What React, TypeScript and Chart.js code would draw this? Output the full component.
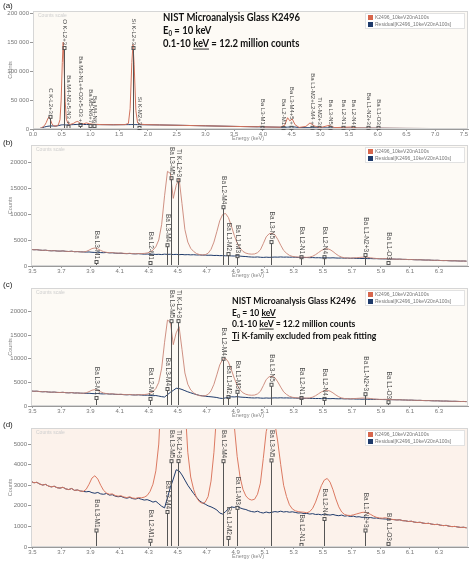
import React, { useEffect, useRef } from "react";
import { Chart, registerables } from "chart.js";
Chart.register(...registerables);

// ---------- shared text ----------
const seriesNames = ["K2496_10keV20nA100s", "Residual[K2496_10keV20nA100s]"];
const seriesColors = ["#d8664c", "#1f3b6b"];
const panelLetters = ["(a)", "(b)", "(c)", "(d)"];

// ---------- panel (a): full spectrum 0 - 7.57 keV ----------
const aEnergy = [0.05,0.1,0.15,0.2,0.23,0.26,0.28,0.30,0.33,0.36,0.40,0.44,0.47,0.49,0.51,0.525,0.54,0.56,0.58,0.61,0.65,0.70,0.75,0.78,0.82,0.88,0.93,0.98,1.05,1.2,1.4,1.6,1.66,1.69,1.72,1.74,1.76,1.79,1.82,1.86,1.95,2.2,2.6,3.0,3.5,3.9,3.95,4.0,4.3,4.38,4.43,4.47,4.51,4.56,4.63,4.75,4.82,4.9,5.0,5.15,5.25,5.53,5.65,6.0,6.5,7.0,7.57];
const aCounts = [0,300,2000,6000,11000,18500,21000,17000,9000,5500,5000,7000,16000,50000,115000,150000,112000,48000,17000,9500,8000,9500,12500,13000,10000,9000,10500,9000,8200,7600,7300,7600,9500,35000,115000,146000,112000,32000,10500,8500,7600,7000,6300,5500,4500,3800,4600,3600,3100,6500,19500,14000,17500,7500,2700,4500,10500,5000,2500,6200,2400,3400,1700,1350,1000,820,680];
const aResidual = [0,300,1800,3500,4200,4800,5000,5200,5300,5100,5000,5800,6500,7000,7200,7300,7200,7100,7000,7200,7400,7600,7800,7900,7900,7800,7800,7700,7600,7500,7300,7500,7600,7600,7700,7700,7600,7600,7500,7400,7300,7000,6300,5500,4500,3800,3700,3600,3100,3000,3200,3600,3800,3400,2600,2300,2200,2100,2000,1900,1850,1650,1550,1350,1000,820,680];
const aXTicks = [0,0.5,1,1.5,2,2.5,3,3.5,4,4.5,5,5.5,6,6.5,7,7.5];
const aYTicks = [0,50000,100000,150000,200000];
const aMarkLabels = ["C K-L2+3","O K-L2+3","Ba M4-N2+5-N3 +","Ba M3-N1+4-O2+5-O3 +","Ba M5-N6+7","Ba M4-N6","Si K-L2+3","Si K-M2+3","Ba L3-M1","Ba L2-M1","Ba L3-M4+5 +","Ba L1-M2+L2-M4 +","Ti K-M2+3","Ba L3-N5","Ba L2-N1","Ba L2-N4","Ba L1-N2+3","Ba L1-O3"];
const aMarkEnergy = [0.30,0.54,0.61,0.82,0.99,1.06,1.74,1.85,3.98,4.35,4.49,4.85,4.98,5.17,5.39,5.57,5.83,6.0];
const aMarkHeight = [21000,140000,3400,6900,5000,5000,140000,1700,2000,1700,2000,2000,2000,2000,2000,2000,2000,2000];

// ---------- panels (b)(c)(d): 3.49 - 6.5 keV ----------
const hiEnergy = [
  3.49,3.51,3.53,3.55,3.57,3.59,3.61,3.63,3.65,3.67,
  3.69,3.71,3.73,3.75,3.77,3.79,3.81,3.83,3.85,3.87,
  3.89,3.91,3.93,3.95,3.97,3.99,4.01,4.03,4.05,4.07,
  4.09,4.11,4.13,4.15,4.17,4.19,4.21,4.23,4.25,4.27,
  4.29,4.31,4.33,4.35,4.37,4.39,4.41,4.43,4.45,4.47,
  4.49,4.51,4.53,4.55,4.57,4.59,4.61,4.63,4.65,4.67,
  4.69,4.71,4.73,4.75,4.77,4.79,4.81,4.83,4.85,4.87,
  4.89,4.91,4.93,4.95,4.97,4.99,5.01,5.03,5.05,5.07,
  5.09,5.11,5.13,5.15,5.17,5.19,5.21,5.23,5.25,5.27,
  5.29,5.31,5.33,5.35,5.37,5.39,5.41,5.43,5.45,5.47,
  5.49,5.51,5.53,5.55,5.57,5.59,5.61,5.63,5.65,5.67,
  5.69,5.71,5.73,5.75,5.77,5.79,5.81,5.83,5.85,5.87,
  5.89,5.91,5.93,5.95,5.97,5.99,6.01,6.03,6.05,6.07,
  6.09,6.11,6.13,6.15,6.17,6.19,6.21,6.23,6.25,6.27,
  6.29,6.31,6.33,6.35,6.37,6.39,6.41,6.43,6.45,6.47,
  6.49];
const hiCounts = [
  3190,3120,3140,3060,3010,3040,2960,2920,2950,2880,
  2860,2900,2820,2790,2840,2750,2770,2720,2700,2800,
  3050,3350,3460,3300,3000,2750,2620,2560,2580,2500,
  2470,2490,2430,2400,2440,2380,2360,2400,2390,2420,
  2500,2700,3050,3700,5000,8000,13500,18200,17800,13000,
  15500,16800,12000,7000,4600,3400,2800,2400,2200,2120,
  2180,2450,3200,4600,6600,8700,9900,10100,9300,7700,
  5900,4400,3400,2800,2480,2330,2280,2320,2560,3100,
  4300,5600,6200,6300,6000,5100,4000,3000,2450,2050,
  1850,1760,1720,1700,1690,1660,1720,1880,2180,2580,
  2980,3250,3330,3150,2780,2330,1950,1700,1580,1540,
  1530,1560,1600,1640,1680,1690,1650,1580,1500,1440,
  1410,1400,1420,1390,1350,1330,1310,1320,1280,1270,
  1240,1250,1210,1190,1200,1160,1140,1150,1110,1090,
  1100,1060,1040,1050,1010,990,1000,970,950,960,
  930];
// residual with Ti fitted (panel b)
const hiResidualB = [
  3190,3120,3140,3060,3010,3040,2960,2920,2950,2880,
  2860,2900,2820,2790,2840,2750,2770,2720,2700,2680,
  2700,2640,2610,2650,2580,2560,2600,2520,2540,2470,
  2440,2460,2400,2370,2410,2350,2330,2370,2320,2280,
  2300,2250,2280,2220,2250,2200,2280,2230,2260,2200,
  2240,2180,2220,2160,2190,2140,2170,2120,2130,2090,
  2100,2060,2080,2020,2040,1990,2000,1960,1980,1940,
  1920,1980,1900,1850,1820,1760,1720,1700,1740,1680,
  1650,1700,1660,1690,1720,1700,1740,1700,1720,1690,
  1710,1680,1650,1660,1620,1630,1600,1620,1580,1590,
  1560,1600,1570,1550,1580,1540,1520,1550,1500,1520,
  1480,1500,1460,1470,1440,1450,1420,1430,1400,1410,
  1380,1370,1360,1350,1340,1330,1310,1320,1280,1270,
  1240,1250,1210,1190,1200,1160,1140,1150,1110,1090,
  1100,1060,1040,1050,1010,990,1000,970,950,960,
  930];
// residual with Ti K-family excluded (panels c, d)
const hiResidualC = [
  3190,3120,3140,3060,3010,3040,2960,2920,2950,2880,
  2860,2900,2820,2790,2840,2750,2770,2720,2700,2680,
  2700,2640,2610,2650,2580,2560,2600,2520,2540,2470,
  2440,2460,2400,2370,2410,2350,2330,2370,2320,2280,
  2300,2250,2180,2220,2100,1980,1900,2400,2900,3300,
  3750,3700,3500,3250,3000,2800,2600,2420,2250,2150,
  2080,2000,1950,1880,1800,1650,1600,1720,1850,1950,
  1920,1980,1900,1850,1820,1760,1720,1700,1740,1680,
  1650,1700,1660,1690,1720,1700,1740,1700,1720,1690,
  1710,1680,1650,1660,1620,1630,1600,1620,1580,1590,
  1560,1600,1570,1550,1580,1540,1520,1550,1500,1520,
  1480,1500,1460,1470,1440,1450,1420,1430,1400,1410,
  1380,1370,1360,1350,1340,1330,1310,1320,1280,1270,
  1240,1250,1210,1190,1200,1160,1140,1150,1110,1090,
  1100,1060,1040,1050,1010,990,1000,970,950,960,
  930];
const hiXTicks = [3.5,3.7,3.9,4.1,4.3,4.5,4.7,4.9,5.1,5.3,5.5,5.7,5.9,6.1,6.3];
const bYTicks = [0,5000,10000,15000,20000];
const cYTicks = [0,5000,10000,15000,20000];
const dYTicks = [0,1000,2000,3000,4000,5000];
const hiMarkLabels = ["Ba L3-M1","Ba L2-M1","Ba L3-M4","Ba L3-M5","Ti K-L2+3","Ba L2-M4","Ba L1-M2","Ba L1-M3","Ba L3-N5","Ba L2-N1","Ba L2-N4","Ba L1-N2+3","Ba L1-O3"];
const hiMarkEnergy = [3.94,4.31,4.43,4.455,4.50,4.81,4.85,4.91,5.14,5.35,5.51,5.79,5.95];
const bMarkHeight = [770,580,4000,18000,16500,11300,2300,1900,4600,1700,1700,2100,580];
const cMarkHeight = [1700,1500,3600,19600,19000,10000,1900,3000,4500,1700,1500,2500,800];
const dMarkHeight = [800,300,1700,19000,19000,11000,440,1900,6000,100,1360,800,150];

type Seg = { t: string; sub?: boolean; u?: boolean };
const titleA: Seg[][] = [
  [{ t: "NIST Microanalysis Glass K2496" }],
  [{ t: "E" }, { t: "0", sub: true }, { t: " = 10 keV" }],
  [{ t: "0.1-10 " }, { t: "keV", u: true }, { t: " = 12.2 million counts" }],
];
const titleC: Seg[][] = [
  [{ t: "NIST Microanalysis Glass K2496" }],
  [{ t: "E" }, { t: "0", sub: true }, { t: " = 10 " }, { t: "keV", u: true }],
  [{ t: "0.1-10 " }, { t: "keV", u: true }, { t: " = 12.2 million counts" }],
  [{ t: "Ti", u: true }, { t: " K-family excluded from peak fitting" }],
];

const FONT = '"Liberation Sans", Arial, sans-serif';

interface PanelCfg {
  letter: string; letterY: number;
  top: number; height: number; padTop: number; xAxisH: number; yAxisW: number;
  xMin: number; xMax: number; yMax: number;
  xTicks: number[]; yTicks: number[]; spaceSep: boolean;
  energy: number[]; counts: number[]; residual: number[];
  lineColor: string; lineWidth: number;
  markLabels: string[]; markEnergy: number[]; markHeight: number[]; markFont: number;
  title?: Seg[][]; titleX?: number; titleBase?: number[]; titleFont?: number; titleW?: number;
  bg: string;
}

function fmtY(v: number, space: boolean) {
  const s = String(Math.round(v));
  return space ? s.replace(/\B(?=(\d{3})+(?!\d))/g, " ") : s;
}

function drawTitle(ctx: CanvasRenderingContext2D, cfg: PanelCfg) {
  if (!cfg.title) return;
  const fs = cfg.titleFont!;
  const font = `bold ${fs}px Lato, "Open Sans", sans-serif`;
  const subFont = `bold ${fs * 0.65}px Lato, "Open Sans", sans-serif`;
  ctx.save();
  ctx.font = font;
  const w0 = cfg.title[0].reduce((s, g) => s + ctx.measureText(g.t).width, 0);
  const sx = cfg.titleW! / w0;
  ctx.translate(cfg.titleX!, 0);
  ctx.scale(sx, 1);
  ctx.fillStyle = "#111";
  ctx.textBaseline = "alphabetic";
  cfg.title.forEach((segs, li) => {
    let cx = 0;
    const by = cfg.titleBase![li];
    segs.forEach((g) => {
      if (g.sub) {
        ctx.font = subFont;
        const w = ctx.measureText(g.t).width;
        ctx.fillText(g.t, cx, by + fs * 0.22);
        cx += w;
        ctx.font = font;
      } else {
        const w = ctx.measureText(g.t).width;
        ctx.fillText(g.t, cx, by);
        if (g.u) ctx.fillRect(cx, by + 1.6, w, 0.9);
        cx += w;
      }
    });
  });
  ctx.restore();
}

function makePlugin(cfg: PanelCfg) {
  return {
    id: "decor",
    beforeDraw(chart: any) {
      const { ctx, chartArea: a } = chart;
      ctx.save();
      ctx.fillStyle = cfg.bg;
      ctx.fillRect(a.left, a.top, a.right - a.left, a.bottom - a.top);
      ctx.restore();
    },
    afterDatasetsDraw(chart: any) {
      const { ctx, chartArea: a } = chart;
      const xs = chart.scales.x, ys = chart.scales.y;
      ctx.save();
      ctx.font = `${cfg.markFont}px ${FONT}`;
      ctx.fillStyle = "#4a4a4a";
      ctx.strokeStyle = "#555";
      ctx.lineWidth = 1;
      const y0 = ys.getPixelForValue(0);
      cfg.markLabels.forEach((lab, i) => {
        const x = Math.round(xs.getPixelForValue(cfg.markEnergy[i])) + 0.5;
        const L = ctx.measureText(lab).width;
        let sq = ys.getPixelForValue(Math.min(cfg.markHeight[i], cfg.yMax));
        let textEnd = sq - 3;
        if (textEnd - L < a.top + 2) {
          textEnd = a.top + 2 + L;
          sq = textEnd + 3;
        }
        ctx.save();
        ctx.translate(x, textEnd);
        ctx.rotate(Math.PI / 2);
        ctx.textAlign = "right";
        ctx.textBaseline = "middle";
        ctx.fillText(lab, 0, 0);
        ctx.restore();
        ctx.strokeRect(x - 1.5, sq - 1.5, 3, 3);
        ctx.beginPath();
        ctx.moveTo(x, sq + 1.5);
        ctx.lineTo(x, y0);
        ctx.stroke();
      });
      ctx.restore();
    },
    afterDraw(chart: any) {
      const { ctx, chartArea: a } = chart;
      ctx.save();
      // plot frame
      ctx.strokeStyle = "#d6d6d6";
      ctx.lineWidth = 1;
      ctx.strokeRect(a.left + 0.5, a.top + 0.5, a.right - a.left - 1, a.bottom - a.top - 1);
      // faint scale note
      ctx.font = `5px ${FONT}`;
      ctx.fillStyle = "#cfcfcf";
      ctx.textBaseline = "middle";
      ctx.fillText("Counts scale", a.left + 5, a.top + 5);
      // legend
      const lx = a.right - 100;
      ctx.fillStyle = "#ffffff";
      ctx.fillRect(lx - 3, a.top + 2, 100, 16);
      ctx.strokeStyle = "#e2e2e2";
      ctx.strokeRect(lx - 2.5, a.top + 2.5, 99, 15);
      seriesNames.forEach((nm, i) => {
        const ry = a.top + 6.5 + i * 7;
        ctx.fillStyle = seriesColors[i];
        ctx.fillRect(lx, ry - 2.5, 5, 5);
        ctx.fillStyle = "#777";
        ctx.font = `5px ${FONT}`;
        ctx.textBaseline = "middle";
        ctx.fillText(nm, lx + 7, ry);
      });
      // axis titles
      ctx.fillStyle = "#888";
      ctx.font = `5.5px ${FONT}`;
      ctx.textBaseline = "middle";
      ctx.fillText("Energy (keV)", 232, a.bottom + 9.5);
      ctx.save();
      ctx.translate(10, (a.top + a.bottom) / 2);
      ctx.rotate(-Math.PI / 2);
      ctx.textAlign = "center";
      ctx.fillText("Counts", 0, 0);
      ctx.restore();
      // panel letter
      ctx.fillStyle = "#222";
      ctx.font = `8px ${FONT}`;
      ctx.textAlign = "left";
      ctx.textBaseline = "middle";
      ctx.fillText(cfg.letter, 3, cfg.letterY);
      ctx.restore();
      drawTitle(ctx, cfg);
    },
  };
}

function Panel({ cfg }: { cfg: PanelCfg }) {
  const ref = useRef<HTMLCanvasElement>(null);
  useEffect(() => {
    const canvas = ref.current!;
    const mk = (ys: number[]) => cfg.energy.map((e, i) => ({ x: e, y: ys[i] }));
    const chart = new Chart(canvas, {
      type: "line",
      data: {
        datasets: [
          { label: seriesNames[0], data: mk(cfg.counts), borderColor: cfg.lineColor, borderWidth: cfg.lineWidth, pointRadius: 0, tension: 0 },
          { label: seriesNames[1], data: mk(cfg.residual), borderColor: seriesColors[1], borderWidth: 1, pointRadius: 0, tension: 0 },
        ],
      },
      options: {
        animation: false,
        responsive: false,
        devicePixelRatio: 1,
        layout: { padding: { top: cfg.padTop, right: 2, left: 0, bottom: 0 } },
        plugins: { legend: { display: false }, tooltip: { enabled: false } },
        scales: {
          x: {
            type: "linear",
            min: cfg.xMin,
            max: cfg.xMax,
            afterBuildTicks: (s: any) => { s.ticks = cfg.xTicks.map((v) => ({ value: v })); },
            afterFit: (s: any) => { s.height = cfg.xAxisH; },
            ticks: { autoSkip: false, maxRotation: 0, minRotation: 0, padding: 0, color: "#777", font: { size: 6, family: FONT }, callback: (v: any) => Number(v).toFixed(1) },
            grid: { drawOnChartArea: false, tickLength: 2, color: "#999" },
            border: { color: "#9a9a9a" },
          },
          y: {
            type: "linear",
            min: 0,
            max: cfg.yMax,
            afterBuildTicks: (s: any) => { s.ticks = cfg.yTicks.map((v) => ({ value: v })); },
            afterFit: (s: any) => { s.width = cfg.yAxisW; },
            ticks: { padding: 1, color: "#777", font: { size: 6, family: FONT }, callback: (v: any) => fmtY(Number(v), cfg.spaceSep) },
            grid: { drawOnChartArea: false, tickLength: 3, color: "#999" },
            border: { color: "#9a9a9a" },
          },
        },
      },
      plugins: [makePlugin(cfg) as any],
    });
    return () => chart.destroy();
  }, [cfg]);
  return (
    <canvas
      ref={ref}
      width={470}
      height={cfg.height}
      style={{ position: "absolute", left: 0, top: cfg.top, width: 470, height: cfg.height }}
    />
  );
}

const panels: PanelCfg[] = [
  {
    letter: panelLetters[0], letterY: 6, top: 0, height: 145, padTop: 11, xAxisH: 16, yAxisW: 33,
    xMin: 0, xMax: 7.57, yMax: 204000, xTicks: aXTicks, yTicks: aYTicks, spaceSep: true,
    energy: aEnergy, counts: aCounts, residual: aResidual,
    lineColor: "#d2725c", lineWidth: 1,
    markLabels: aMarkLabels, markEnergy: aMarkEnergy, markHeight: aMarkHeight, markFont: 6,
    title: titleA, titleX: 163, titleBase: [21, 34, 47], titleFont: 11, titleW: 137,
    bg: "#fdfaf5",
  },
  {
    letter: panelLetters[1], letterY: 7, top: 136, height: 146, padTop: 9, xAxisH: 16, yAxisW: 31,
    xMin: 3.49, xMax: 6.5, yMax: 23270, xTicks: hiXTicks, yTicks: bYTicks, spaceSep: false,
    energy: hiEnergy, counts: hiCounts, residual: hiResidualB,
    lineColor: "#c98576", lineWidth: 0.9,
    markLabels: hiMarkLabels, markEnergy: hiMarkEnergy, markHeight: bMarkHeight, markFont: 6.5,
    bg: "#fdfaf5",
  },
  {
    letter: panelLetters[2], letterY: 7, top: 278, height: 144, padTop: 10, xAxisH: 16, yAxisW: 31,
    xMin: 3.49, xMax: 6.5, yMax: 25000, xTicks: hiXTicks, yTicks: cYTicks, spaceSep: false,
    energy: hiEnergy, counts: hiCounts, residual: hiResidualC,
    lineColor: "#c98576", lineWidth: 0.9,
    markLabels: hiMarkLabels, markEnergy: hiMarkEnergy, markHeight: cMarkHeight, markFont: 6.5,
    title: titleC, titleX: 232, titleBase: [26, 37.5, 49, 60.5], titleFont: 9.5, titleW: 124,
    bg: "#fdfaf5",
  },
  {
    letter: panelLetters[3], letterY: 7, top: 418, height: 146, padTop: 10, xAxisH: 17, yAxisW: 31,
    xMin: 3.49, xMax: 6.5, yMax: 5780, xTicks: hiXTicks, yTicks: dYTicks, spaceSep: false,
    energy: hiEnergy, counts: hiCounts, residual: hiResidualC,
    lineColor: "#dc7a62", lineWidth: 1,
    markLabels: hiMarkLabels, markEnergy: hiMarkEnergy, markHeight: dMarkHeight, markFont: 6.5,
    bg: "#fcf2eb",
  },
];

export default function App() {
  return (
    <div style={{ position: "fixed", left: 0, top: 0, width: 470, height: 564, background: "#fff", overflow: "hidden" }}>
      {panels.map((p) => (
        <Panel key={p.letter} cfg={p} />
      ))}
    </div>
  );
}
